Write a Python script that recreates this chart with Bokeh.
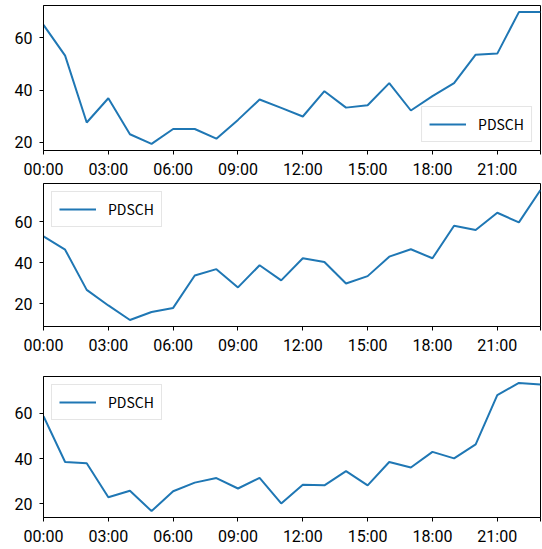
from bokeh.plotting import figure
from bokeh.layouts import column
from bokeh.models import Range1d, FixedTicker, Legend, LegendItem
from bokeh.embed import file_html
from bokeh.resources import INLINE

hours = list(range(24))
tick_hours = [0, 3, 6, 9, 12, 15, 18, 21]
tick_labels = ["00:00", "03:00", "06:00", "09:00", "12:00", "15:00", "18:00", "21:00"]
end_hour = [23]
y_ticks = [20, 40, 60]
series_name = "PDSCH"

pdsch_1 = [65.0, 53.2, 27.6, 36.9, 23.1, 19.4, 25.1, 25.1, 21.4, 28.6, 36.4, 33.2,
           29.9, 39.6, 33.3, 34.2, 42.7, 32.2, 37.7, 42.7, 53.6, 54.0, 69.9, 69.9]
pdsch_2 = [52.9, 46.4, 26.8, 19.2, 12.1, 16.0, 18.0, 33.8, 36.9, 28.0, 38.8, 31.4,
           42.2, 40.4, 29.9, 33.5, 43.0, 46.6, 42.2, 58.1, 56.0, 64.4, 59.7, 75.5]
pdsch_3 = [58.8, 38.5, 38.0, 22.9, 25.8, 16.8, 25.6, 29.4, 31.4, 26.8, 31.5, 20.2,
           28.5, 28.2, 34.5, 28.2, 38.5, 36.1, 43.0, 40.1, 46.3, 68.1, 73.5, 72.8]

TICK_FONT = "Roboto"
LEGEND_FONT = "Noto Sans CJK SC"


def make(values, loc, top_border, frame_h):
    lo, hi = min(values), max(values)
    pad = 0.05 * (hi - lo)
    p = figure(frame_width=497, frame_height=frame_h, output_backend="svg",
               toolbar_location=None, min_border_left=43, min_border_right=1,
               min_border_top=top_border, min_border_bottom=0,
               x_range=Range1d(hours[0], hours[-1]),
               y_range=Range1d(lo - pad, hi + pad))
    r = p.line(hours, values, line_color="#1f77b4", line_width=2)
    legend = Legend(items=[LegendItem(label=series_name, renderers=[r])],
                    location=loc, margin=8, padding=7, spacing=0,
                    label_standoff=12, glyph_width=37, glyph_height=16,
                    label_height=16,
                    label_text_font=LEGEND_FONT, label_text_font_size="14px",
                    label_text_color="black",
                    border_line_color="#cccccc", border_line_width=1,
                    background_fill_alpha=0.8)
    p.add_layout(legend)
    p.xgrid.visible = False
    p.ygrid.visible = False
    p.outline_line_color = "black"
    p.outline_line_alpha = 1
    p.outline_line_width = 1
    p.xaxis.ticker = FixedTicker(ticks=tick_hours, minor_ticks=end_hour)
    p.xaxis.major_label_overrides = {h: t for h, t in zip(tick_hours, tick_labels)}
    p.yaxis.ticker = FixedTicker(ticks=y_ticks)
    for ax in (p.xaxis[0], p.yaxis[0]):
        ax.axis_line_color = "black"
        ax.major_tick_line_color = "black"
        ax.minor_tick_line_color = "black"
        ax.major_tick_out = 4
        ax.major_tick_in = 0
        ax.minor_tick_in = 0
        ax.major_label_text_font = TICK_FONT
        ax.major_label_text_font_size = "16px"
        ax.major_label_text_color = "black"
        ax.axis_label_standoff = 0
    p.xaxis.major_label_standoff = 5
    p.yaxis.major_label_standoff = 7
    p.xaxis.minor_tick_out = 4
    p.yaxis.minor_tick_out = 0
    return p


p1 = make(pdsch_1, "bottom_right", 5, 145)
p2 = make(pdsch_2, "top_left", 2, 143)
p3 = make(pdsch_3, "top_left", 19, 141)

layout = column(p1, p2, p3, spacing=0)
open("out.html", "w").write(file_html(layout, INLINE))
